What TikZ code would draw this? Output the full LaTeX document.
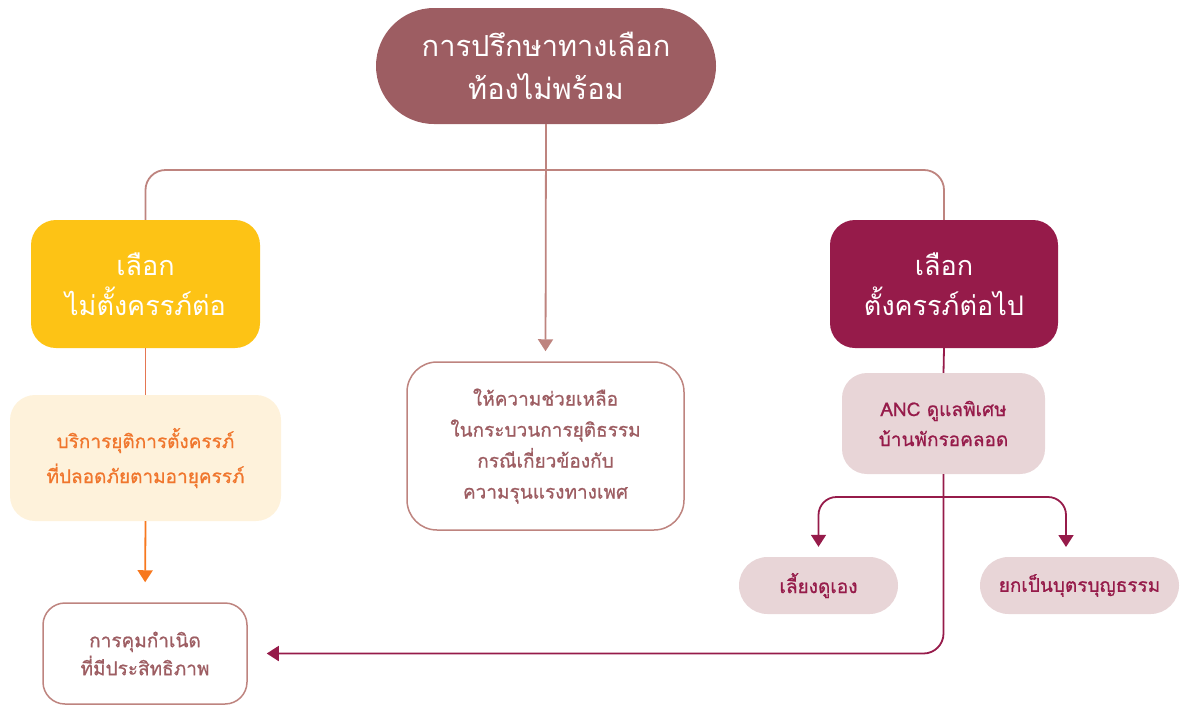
\documentclass[tikz,border=0pt]{standalone}
\usepackage{fontspec}
\setmainfont[Script=Thai]{Loma}
\newfontfamily\medthai[Script=Thai, FakeBold=0.8]{Loma}
\usetikzlibrary{arrows.meta}

\definecolor{mauve}{RGB}{157,93,98}
\definecolor{roseline}{RGB}{190,132,127}
\definecolor{amber}{RGB}{253,195,21}
\definecolor{cream}{RGB}{254,242,219}
\definecolor{orangetext}{RGB}{240,118,45}
\definecolor{orangeline}{RGB}{228,118,82}
\definecolor{orangearrow}{RGB}{247,120,30}
\definecolor{crimson}{RGB}{150,27,74}
\definecolor{blush}{RGB}{232,213,215}

\tikzset{
  box/.style={rectangle, inner sep=0pt, align=center},
  bigtext/.style={font=\fontsize{27}{40}\selectfont},
  smalltext/.style={font=\medthai\fontsize{19}{31}\selectfont},
  tip/.style={-{Triangle[width=15pt,length=12pt]}},
  link/.style={line width=1.8pt},
}

\begin{document}
\begin{tikzpicture}[x=1pt,y=-1pt]
\useasboundingbox (0,0) rectangle (1183,705);

% main topic
\node[box, fill=mauve, text=white, minimum width=340pt, minimum height=116pt,
      rounded corners=58pt, font=\fontsize{29}{43}\selectfont]
  (top) at (546,66) {การปรึกษาทางเลือก\\ท้องไม่พร้อม};

% two choices
\node[box, bigtext, fill=amber, text=white, minimum width=229pt, minimum height=128pt,
      rounded corners=25pt] (nocont) at (145.5,284) {เลือก\\ไม่ตั้งครรภ์ต่อ};
\node[box, bigtext, fill=crimson, text=white, minimum width=228pt, minimum height=128pt,
      rounded corners=25pt] (cont) at (944,284) {เลือก\\ตั้งครรภ์ต่อไป};

% left branch
\node[box, smalltext, fill=cream, text=orangetext, minimum width=271pt, minimum height=126pt,
      rounded corners=25pt, font=\medthai\fontsize{19}{35}\selectfont]
  (abort) at (145.5,458) {บริการยุติการตั้งครรภ์\\ที่ปลอดภัยตามอายุครรภ์};
\node[box, draw=roseline, line width=1.5pt, fill=white, text=mauve,
      minimum width=204pt, minimum height=101pt, rounded corners=22pt,
      font=\medthai\fontsize{19}{28}\selectfont]
  (ctrl) at (145,653.5) {การคุมกำเนิด\\ที่มีประสิทธิภาพ};

% middle support
\node[box, draw=roseline, line width=1.5pt, fill=white, text=mauve,
      minimum width=277pt, minimum height=168pt, rounded corners=30pt,
      font=\medthai\fontsize{19}{31}\selectfont]
  (help) at (545.5,446) {ให้ความช่วยเหลือ\\ในกระบวนการยุติธรรม\\กรณีเกี่ยวข้องกับ\\ความรุนแรงทางเพศ};

% right branch
\node[box, fill=blush, text=crimson, minimum width=203pt, minimum height=101pt,
      rounded corners=25pt, font=\medthai\fontsize{19}{30}\selectfont]
  (anc) at (943.5,423.5) {ANC ดูแลพิเศษ\\บ้านพักรอคลอด};
\node[box, smalltext, fill=blush, text=crimson, minimum width=159pt, minimum height=57pt,
      rounded corners=28.5pt]
  (self) at (818.5,585.5) {เลี้ยงดูเอง};
\node[box, smalltext, fill=blush, text=crimson, minimum width=199pt, minimum height=57pt,
      rounded corners=28.5pt]
  (adopt) at (1079.5,585.5) {ยกเป็นบุตรบุญธรรม};

% connectors
\coordinate (bar) at (546,170);
\coordinate (fork) at (943,497);
\coordinate (adoptin) at (1066,557);

\draw[roseline, link, rounded corners=20pt]
  (nocont.north) |- (bar) -| (cont.north);
\draw[roseline, link, tip, shorten >=10pt] (top.south) -- (help.north);

\draw[orangeline, link] (nocont.south) -- (abort.north);
\draw[orangearrow, link, tip, shorten >=20pt] (abort.south) -- (ctrl.north);

\draw[crimson, link] (cont.south) -- (anc.north);
\draw[crimson, link, tip, rounded corners=20pt, shorten >=19pt]
  (anc.south) |- (ctrl.east);
\draw[crimson, link, tip, rounded corners=18pt, shorten >=10pt]
  (fork) -| (self.north);
\draw[crimson, link, tip, rounded corners=18pt, shorten >=10pt]
  (fork) -| (adoptin);
\end{tikzpicture}
\end{document}
